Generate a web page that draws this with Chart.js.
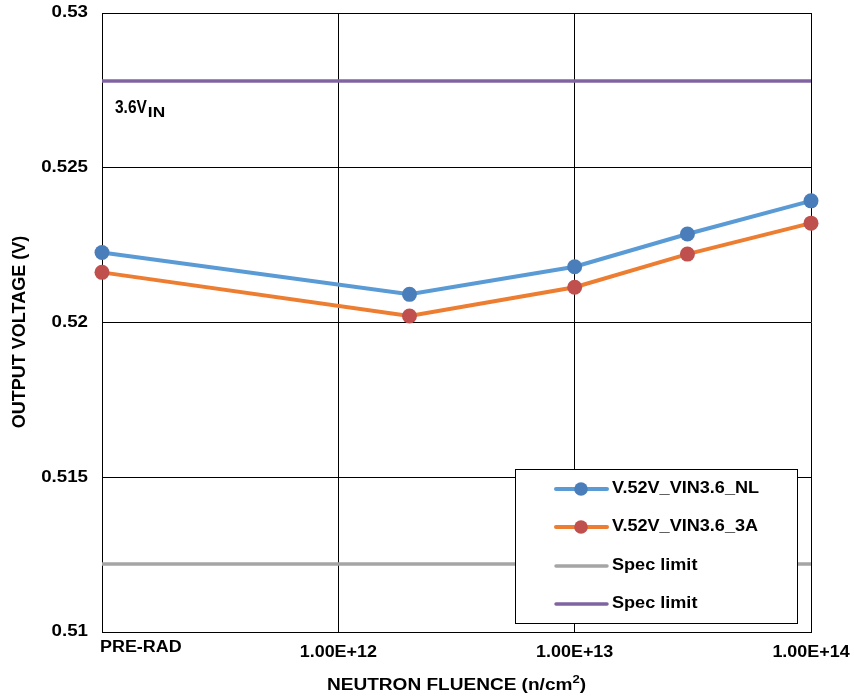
<!DOCTYPE html>
<html>
<head>
<meta charset="utf-8">
<script src="https://cdn.jsdelivr.net/npm/chart.js@4/dist/chart.umd.min.js"></script>
<style>
html,body{margin:0;padding:0;background:#fff;}
#wrap{width:854px;height:699px;}
</style>
</head>
<body>
<div id="wrap"><canvas id="c" width="854" height="699"></canvas></div>
<script>
// ---- data ----
const fluence = [1e11, 2e12, 1e13, 3e13, 1e14];
const nlValues = [0.52226, 0.52091, 0.52180, 0.52286, 0.52393];
const a3Values = [0.52162, 0.52021, 0.52114, 0.52221, 0.52321];
const specLowValue = 0.5122;
const specHighValue = 0.5278;
const seriesLabels = ['V.52V_VIN3.6_NL', 'V.52V_VIN3.6_3A', 'Spec limit', 'Spec limit'];
const xTickValues = [1e11, 1e12, 1e13, 1e14];
const xTickLabels = ['PRE-RAD', '1.00E+12', '1.00E+13', '1.00E+14'];
const yTickValues = [0.51, 0.515, 0.52, 0.525, 0.53];
const yTickLabels = ['0.51', '0.515', '0.52', '0.525', '0.53'];
const xTitle = 'NEUTRON FLUENCE (n/cm';
const xTitleSup = '2';
const yTitle = 'OUTPUT VOLTAGE (V)';
const annotationMain = '3.6V';
const annotationSub = 'IN';

const FONT = '"Liberation Sans", Arial, sans-serif';

function txt(ctx, text, x, y, opts) {
  const o = Object.assign({size: 16, sx: 1.1, align: 'left', rot: 0, baseline: 'middle'}, opts || {});
  ctx.save();
  ctx.translate(x, y);
  if (o.rot) ctx.rotate(o.rot);
  ctx.scale(o.sx, 1);
  ctx.font = 'bold ' + o.size + 'px ' + FONT;
  ctx.fillStyle = '#000';
  ctx.textAlign = o.align;
  ctx.textBaseline = o.baseline;
  ctx.fillText(text, 0, 0);
  ctx.restore();
}
function tw(ctx, text, size, sx) {
  ctx.save();
  ctx.font = 'bold ' + size + 'px ' + FONT;
  const w = ctx.measureText(text).width * sx;
  ctx.restore();
  return w;
}

const toPts = (vals) => fluence.map((f, i) => ({x: f, y: vals[i]}));

const textPlugin = {
  id: 'textPlugin',
  afterDraw(chart) {
    const ctx = chart.ctx;
    const xs = chart.scales.x, ys = chart.scales.y;
    const area = chart.chartArea;
    // y tick labels
    yTickValues.forEach((v, i) => {
      txt(ctx, yTickLabels[i], area.left - 14, ys.getPixelForValue(v), {size: 16, sx: 1.17, align: 'right'});
    });
    // x tick labels
    xTickValues.forEach((v, i) => {
      const px = xs.getPixelForValue(v);
      if (i === 0) {
        txt(ctx, xTickLabels[i], px - 2, area.bottom + 16, {size: 16, sx: 1.12, align: 'left'});
      } else {
        txt(ctx, xTickLabels[i], px, area.bottom + 21, {size: 16, sx: 1.12, align: 'center'});
      }
    });
    // x title with superscript
    const s = 16, sx = 1.19;
    const w1 = tw(ctx, xTitle, s, sx), w2 = tw(ctx, xTitleSup, 11, sx), w3 = tw(ctx, ')', s, sx);
    const cx = (area.left + area.right) / 2;
    let x0 = cx - (w1 + w2 + w3) / 2;
    const ty = area.bottom + 54;
    txt(ctx, xTitle, x0, ty, {size: s, sx: sx});
    txt(ctx, xTitleSup, x0 + w1, ty - 6, {size: 11, sx: sx});
    txt(ctx, ')', x0 + w1 + w2, ty, {size: s, sx: sx});
    // y title
    txt(ctx, yTitle, 20, 332, {size: 18, sx: 1.0, align: 'center', rot: -Math.PI / 2});
    // annotation
    const ax = area.left + 13, ay = ys.getPixelForValue(specHighValue) + 27;
    const wm = tw(ctx, annotationMain, 18, 0.86);
    txt(ctx, annotationMain, ax, ay, {size: 18, sx: 0.86});
    txt(ctx, annotationSub, ax + wm + 1, ay + 5, {size: 15, sx: 1.15});

    // legend
    const lx = 515, ly = 469, lw = 282, lh = 154;
    ctx.save();
    ctx.fillStyle = '#fff';
    ctx.fillRect(lx, ly, lw, lh);
    ctx.strokeStyle = '#000';
    ctx.lineWidth = 1;
    ctx.strokeRect(lx + 0.5, ly + 0.5, lw, lh);
    const rows = [489, 527, 566, 604];
    chart.data.datasets.forEach((ds, i) => {
      const ry = rows[i];
      ctx.beginPath();
      ctx.strokeStyle = ds.borderColor;
      ctx.lineWidth = ds.borderWidth;
      ctx.lineCap = 'round';
      ctx.moveTo(556, ry);
      ctx.lineTo(607, ry);
      ctx.stroke();
      if (ds.pointRadius > 0) {
        ctx.beginPath();
        ctx.fillStyle = ds.pointBackgroundColor;
        ctx.arc(581, ry, 6.8, 0, Math.PI * 2);
        ctx.fill();
      }
      txt(ctx, ds.label, 612, ry, {size: 16, sx: 1.13});
    });
    ctx.restore();
  }
};

new Chart(document.getElementById('c'), {
  type: 'line',
  data: {
    datasets: [
      {label: seriesLabels[0], data: toPts(nlValues), borderColor: '#5B9BD5', borderWidth: 4,
       pointBackgroundColor: '#4A7EBB', pointBorderWidth: 0, pointRadius: 7.5, clip: false, order: 2},
      {label: seriesLabels[1], data: toPts(a3Values), borderColor: '#ED7D31', borderWidth: 4,
       pointBackgroundColor: '#C0504D', pointBorderWidth: 0, pointRadius: 7.5, clip: false, order: 1},
      {label: seriesLabels[2], data: [{x: xTickValues[0], y: specLowValue}, {x: xTickValues[3], y: specLowValue}],
       borderColor: '#A5A5A5', borderWidth: 3.5, pointRadius: 0, clip: false, order: 4},
      {label: seriesLabels[3], data: [{x: xTickValues[0], y: specHighValue}, {x: xTickValues[3], y: specHighValue}],
       borderColor: '#8064A2', borderWidth: 3.5, pointRadius: 0, clip: false, order: 3}
    ]
  },
  options: {
    responsive: false,
    animation: false,
    devicePixelRatio: 1,
    layout: {padding: {left: 102, right: 43, top: 13, bottom: 67}},
    plugins: {legend: {display: false}, tooltip: {enabled: false}},
    elements: {line: {tension: 0}},
    scales: {
      x: {
        type: 'logarithmic', min: xTickValues[0], max: xTickValues[3],
        afterBuildTicks: (s) => { s.ticks = xTickValues.map(v => ({value: v})); },
        ticks: {display: false},
        grid: {color: '#000', lineWidth: 1, drawTicks: false, tickLength: 0},
        border: {color: '#000', width: 1}
      },
      y: {
        min: yTickValues[0], max: yTickValues[yTickValues.length - 1],
        afterBuildTicks: (s) => { s.ticks = yTickValues.map(v => ({value: v})); },
        ticks: {display: false},
        grid: {color: '#000', lineWidth: 1, drawTicks: false, tickLength: 0},
        border: {color: '#000', width: 1}
      }
    }
  },
  plugins: [textPlugin]
});
</script>
</body>
</html>
